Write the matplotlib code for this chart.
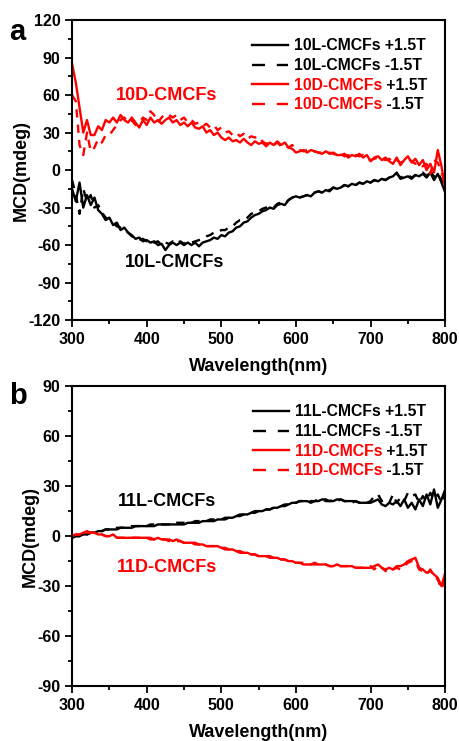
"""MCD spectra of CMCF films under +/-1.5 T (panels a and b)."""
import matplotlib
import matplotlib.pyplot as plt
import numpy as np
from matplotlib.lines import Line2D

matplotlib.use("Agg")
plt.rcParams["font.family"] = ["Liberation Sans", "DejaVu Sans"]
plt.rcParams["font.weight"] = "bold"
plt.rcParams["axes.unicode_minus"] = False

# wavelength grid shared by all series (nm)
wavelength = list(range(300, 801, 5))

# panel a -- 10L / 10D films
mcd_10l_pos = [
    -15, -25, -10, -30, -20, -28, -22, -32, -35, -40,
    -38, -44, -42, -48, -46, -50, -52, -55, -54, -57,
    -56, -58, -57, -60, -59, -64, -60, -58, -60, -58,
    -60, -58, -60, -58, -61, -58, -57, -56, -54, -55,
    -52, -53, -50, -49, -46, -45, -42, -41, -38, -36,
    -35, -33, -32, -30, -31, -28, -27, -28, -24, -22,
    -21, -22, -21, -20, -21, -18, -17, -18, -16, -17,
    -14, -15, -14, -12, -13, -11, -12, -10, -11, -9,
    -10, -8, -9, -7, -8, -6, -5, -2, -7, -6,
    -5, -7, -4, -5, -3, -6, -2, -8, -3, -10,
    -18,
]
mcd_10l_neg = [
    -8, -20, -35, -15, -25, -20, -30, -28, -34, -38,
    -40, -42, -45, -46, -48, -50, -53, -54, -56, -55,
    -57, -56, -58, -57, -60, -58, -59, -57, -59, -57,
    -59, -57, -58, -57, -56, -55, -53, -52, -50, -50,
    -48, -48, -46, -45, -42, -40, -40, -38, -35, -34,
    -33, -31, -30, -29, -30, -27, -26, -27, -24, -22,
    -21, -22, -21, -20, -20, -18, -17, -18, -16, -16,
    -14, -15, -14, -12, -13, -11, -12, -10, -11, -9,
    -10, -8, -9, -7, -8, -6, -5, -3, -6, -5,
    -4, -6, -4, -4, -2, -5, 0, -6, -2, -8,
    -16,
]
mcd_10d_pos = [
    85, 70, 50, 30, 40, 28, 28, 35, 32, 40,
    38, 42, 38, 44, 40, 38, 42, 38, 34, 40,
    36, 42, 38, 40, 37, 40, 42, 38, 40, 36,
    38, 35, 38, 34, 33, 35, 30, 32, 28, 30,
    26, 24, 26, 23, 24, 22, 25, 22, 20, 23,
    21, 22, 19, 22, 20, 23, 20, 22, 18, 17,
    14, 15, 16, 14, 16, 15, 14, 13, 15, 13,
    14, 12, 12, 13, 10, 12, 11, 13, 10, 12,
    7, 10, 11, 8, 10, 7, 5, 10, 4, 8,
    11, 6, 9, 4, 8, 0, 5, -2, 16, 3,
    -15,
]
mcd_10d_neg = [
    60, 55, 20, 12, 30, 15, 18, 25, 22, 28,
    28, 32, 36, 40, 42, 38, 40, 36, 38, 42,
    40, 47, 44, 38, 42, 45, 44, 42, 44, 40,
    42, 38, 40, 37, 38, 35, 37, 34, 36, 32,
    34, 30, 31, 28, 30, 27, 29, 25, 27, 26,
    27, 23, 21, 22, 20, 22, 19, 20, 18, 20,
    17, 16, 15, 16, 14, 15, 14, 14, 13, 14,
    13, 12, 13, 11, 12, 10, 12, 11, 12, 9,
    8, 9, 10, 9, 8, 9, 6, 8, 6, 7,
    9, 7, 5, 6, 3, 5, -3, 8, 6, -2,
    -10,
]

# panel b -- 11L / 11D films
mcd_11l_pos = [
    -1, 0, 0, 1, 1, 2, 2, 3, 3, 4,
    4, 4, 4, 5, 5, 5, 5, 6, 6, 6,
    6, 6, 6, 7, 7, 7, 7, 7, 7, 7,
    7, 8, 8, 8, 8, 9, 9, 9, 9, 10,
    10, 10, 11, 11, 12, 12, 13, 13, 14, 14,
    15, 15, 16, 16, 17, 17, 18, 18, 19, 20,
    20, 21, 21, 21, 20, 21, 21, 22, 22, 21,
    21, 22, 22, 21, 21, 21, 21, 20, 20, 20,
    20, 21, 22, 19, 18, 20, 19, 21, 18, 22,
    17, 20, 16, 22, 18, 25, 19, 28, 17, 22,
    28,
]
mcd_11l_neg = [
    -1, 0, 0, 1, 1, 2, 2, 3, 3, 4,
    4, 4, 5, 5, 5, 5, 6, 6, 6, 6,
    6, 7, 7, 7, 7, 7, 7, 7, 8, 8,
    8, 8, 8, 9, 9, 9, 9, 10, 10, 10,
    10, 11, 11, 12, 12, 13, 13, 14, 14, 15,
    15, 16, 16, 16, 17, 17, 18, 19, 19, 20,
    20, 21, 21, 20, 21, 21, 22, 22, 21, 21,
    22, 21, 22, 21, 21, 20, 21, 20, 21, 20,
    21, 24, 25, 21, 22, 20, 25, 20, 23, 21,
    26, 24, 25, 20, 24, 21, 26, 22, 25, 20,
    26,
]
mcd_11d_pos = [
    0, 1, 1, 2, 3, 2, 2, 1, 1, 0,
    0, 1, -1, -1, -1, -1, -1, -1, -1, -1,
    -1, -1, -2, -1, -2, -2, -2, -3, -2, -3,
    -4, -4, -4, -4, -5, -5, -6, -6, -6, -6,
    -7, -7, -8, -8, -9, -9, -10, -10, -11, -11,
    -12, -12, -12, -12, -13, -13, -14, -14, -15, -15,
    -16, -16, -17, -17, -17, -16, -17, -17, -17, -18,
    -18, -17, -18, -18, -18, -18, -19, -19, -19, -19,
    -19, -18, -17, -19, -20, -19, -20, -18, -18, -17,
    -15, -14, -13, -19, -20, -22, -21, -23, -25, -30,
    -22,
]
mcd_11d_neg = [
    0, 1, 1, 2, 2, 2, 2, 1, 1, 0,
    0, 0, -1, -1, -1, -1, -1, -1, -1, -1,
    -1, -2, -2, -2, -2, -2, -3, -3, -3, -3,
    -4, -4, -4, -5, -5, -5, -6, -6, -6, -7,
    -7, -8, -8, -9, -9, -10, -10, -10, -11, -11,
    -12, -12, -12, -13, -13, -13, -14, -14, -15, -15,
    -16, -16, -16, -17, -17, -17, -17, -18, -17, -18,
    -18, -18, -18, -18, -18, -19, -19, -19, -19, -18,
    -18, -20, -17, -19, -21, -19, -20, -19, -20, -18,
    -16, -15, -15, -20, -21, -23, -20, -24, -26, -32,
    -24,
]

RED = "#ff0000"
DASH = (0, (3.5, 3))
LEG_DASH = (0, (5.5, 5))


def draw_panel(ax, series, labels, ylim, yticks, annotations):
    handles = []
    for y, color, dashed in series:
        ax.plot(wavelength, y, color=color, linestyle=DASH if dashed else "-", linewidth=1.7)
        handles.append(Line2D([], [], color=color, linewidth=1.7,
                              linestyle=LEG_DASH if dashed else "-"))
    ax.set_xlim(300, 800)
    ax.set_ylim(*ylim)
    ax.set_xticks(np.arange(300, 801, 100))
    ax.set_xticks(np.arange(300, 801, 50), minor=True)
    ax.set_yticks(yticks)
    ax.set_yticks(np.arange(ylim[0], ylim[1] + 1, 15), minor=True)
    ax.tick_params(which="both", direction="out", width=1.3, labelsize=11.5)
    ax.tick_params(which="major", length=5)
    ax.tick_params(which="minor", length=3)
    for s in ax.spines.values():
        s.set_linewidth(1.5)
    for lbl in ax.get_xticklabels() + ax.get_yticklabels():
        lbl.set_fontweight("bold")
    ax.set_xlabel("Wavelength(nm)", fontsize=13, fontweight="bold", labelpad=8)
    ax.set_ylabel("MCD(mdeg)", fontsize=13, fontweight="bold", labelpad=-1)

    leg = ax.legend(handles, [lab[0] for lab in labels], loc="upper right",
                    bbox_to_anchor=(0.965, 0.96), frameon=False,
                    fontsize=11.3, handlelength=2.3, handletextpad=0.4, labelspacing=0.3,
                    borderaxespad=0)
    for txt, lab in zip(leg.get_texts(), labels):
        txt.set_fontweight("bold")
        txt.set_color(lab[1])
        if lab[2]:
            # black field suffix placed right after the red sample name
            ax.annotate(lab[2], xy=(1, 0), xycoords=txt, va="bottom", ha="left",
                        fontsize=11.3, fontweight="bold", color="black", zorder=10)

    for text, x, y, color in annotations:
        ax.text(x, y, text, color=color, fontsize=13, fontweight="bold",
                ha="center", va="center")


fig = plt.figure(figsize=(4.59, 7.41), dpi=100)
ax_a = fig.add_axes([0.157, 0.568, 0.813, 0.405])
ax_b = fig.add_axes([0.157, 0.074, 0.813, 0.405])

draw_panel(
    ax_a,
    [(mcd_10l_pos, "black", False), (mcd_10l_neg, "black", True),
     (mcd_10d_pos, RED, False), (mcd_10d_neg, RED, True)],
    [("10L-CMCFs +1.5T", "black", ""), ("10L-CMCFs -1.5T", "black", ""),
     ("10D-CMCFs", RED, " +1.5T"), ("10D-CMCFs", RED, " -1.5T")],
    (-120, 120), np.arange(-120, 121, 30),
    [("10D-CMCFs", 426, 60, RED), ("10L-CMCFs", 438, -74, "black")],
)
draw_panel(
    ax_b,
    [(mcd_11l_pos, "black", False), (mcd_11l_neg, "black", True),
     (mcd_11d_pos, RED, False), (mcd_11d_neg, RED, True)],
    [("11L-CMCFs +1.5T", "black", ""), ("11L-CMCFs -1.5T", "black", ""),
     ("11D-CMCFs", RED, " +1.5T"), ("11D-CMCFs", RED, " -1.5T")],
    (-90, 90), np.arange(-90, 91, 30),
    [("11L-CMCFs", 427, 21, "black"), ("11D-CMCFs", 427, -19, RED)],
)

fig.text(0.02, 0.946, "a", fontsize=21, fontweight="bold")
fig.text(0.02, 0.455, "b", fontsize=21, fontweight="bold")

fig.savefig("out.png", dpi=100)
plt.close(fig)
